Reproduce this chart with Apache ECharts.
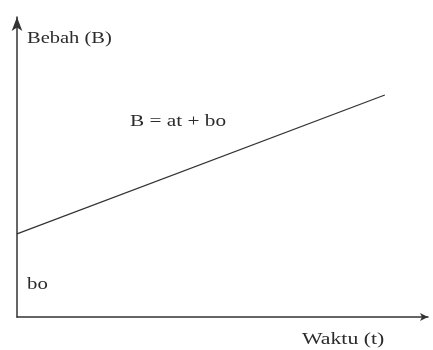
<!DOCTYPE html>
<html>
<head>
<meta charset="utf-8">
<script src="https://cdn.jsdelivr.net/npm/echarts@6/dist/echarts.min.js"></script>
<style>
html,body{margin:0;padding:0;background:#fff;}
#c{width:433px;height:350px;}
</style>
</head>
<body>
<div id="c"></div>
<script>
// Data
var tValues = [0, 89.5];
var bValues = [27.7, 74];
var yAxisName = 'Bebah (B)';
var xAxisName = 'Waktu (t)';
var equationLabel = 'B = at + bo';
var interceptLabel = 'bo';

var chart = echarts.init(document.getElementById('c'));
var font = "'Liberation Serif', 'DejaVu Serif', serif";
var txt = function (text, x, y, sx) {
  return {
    type: 'text', x: x, y: y, scaleX: sx, scaleY: 1,
    style: { text: text, x: 0, y: 0, fill: '#2b2b2b', font: '16px ' + font, textAlign: 'left', textVerticalAlign: 'middle' }
  };
};
chart.setOption({
  animation: false,
  backgroundColor: '#fff',
  grid: { left: 17, right: 5, top: 17, bottom: 33, containLabel: false },
  xAxis: {
    type: 'value', min: 0, max: 100,
    axisLine: { show: true, symbol: ['none', 'arrow'], symbolSize: [6, 8], lineStyle: { color: '#333', width: 1.5 } },
    axisTick: { show: false }, axisLabel: { show: false }, splitLine: { show: false }
  },
  yAxis: {
    type: 'value', min: 0, max: 100,
    axisLine: { show: true, symbol: ['none', 'arrow'], symbolSize: [8, 14], lineStyle: { color: '#333', width: 1.5 } },
    axisTick: { show: false }, axisLabel: { show: false }, splitLine: { show: false }
  },
  series: [{
    type: 'line',
    data: tValues.map(function (t, i) { return [t, bValues[i]]; }),
    showSymbol: false,
    symbol: 'none',
    lineStyle: { color: '#333', width: 1.3 }
  }],
  graphic: [
    txt(yAxisName, 27, 39, 1.28),
    txt(equationLabel, 130, 122, 1.33),
    txt(interceptLabel, 27, 285, 1.3),
    txt(xAxisName, 302, 340, 1.36)
  ]
});
</script>
</body>
</html>
